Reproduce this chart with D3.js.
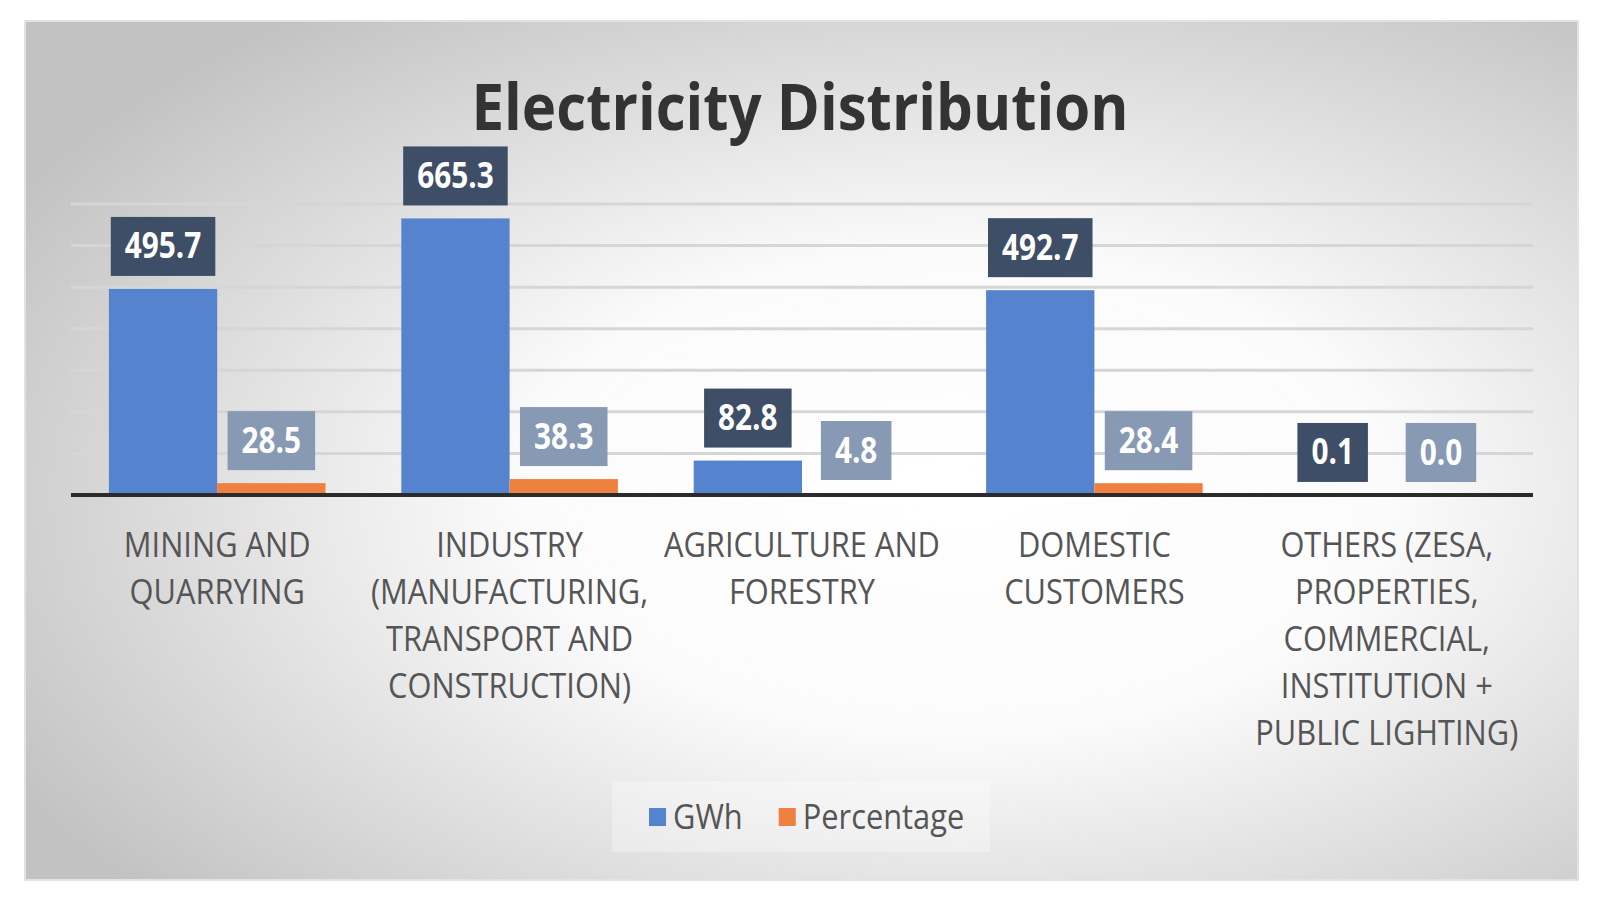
<!DOCTYPE html>
<html>
<head>
<meta charset="utf-8">
<script src="https://cdn.jsdelivr.net/npm/d3@7"></script>
<style>
  body { margin: 0; background: #fff; }
  text { font-family: "Open Sans", sans-serif; }
</style>
</head>
<body>
<script>
// Chart data
const categories = [
    ["MINING AND", "QUARRYING"],
    ["INDUSTRY", "(MANUFACTURING,", "TRANSPORT AND", "CONSTRUCTION)"],
    ["AGRICULTURE AND", "FORESTRY"],
    ["DOMESTIC", "CUSTOMERS"],
    ["OTHERS (ZESA,", "PROPERTIES,", "COMMERCIAL,", "INSTITUTION +", "PUBLIC LIGHTING)"]
];
const gwhValues = [495.7, 665.3, 82.8, 492.7, 0.1];
const pctValues = [28.5, 38.3, 4.8, 28.4, 0.0];
const seriesNames = ["GWh", "Percentage"];
const gridTicks = [100, 200, 300, 400, 500, 600, 700];

// Layout
const W = 1600, H = 900;
const panel = { x: 25, y: 21, w: 1553, h: 859 };
const plot = { left: 71, right: 1533, top: 204, bottom: 495 };
const squeeze = 0.88; // labels are narrow, like Calibri

const colors = { GWh: "#5683cd", Percentage: "#ee8040" };
const labelFill = { GWh: "#3f4e67", Percentage: "#8799b3" };

const svg = d3.select("body").append("svg")
    .attr("width", W)
    .attr("height", H);

// Background gradient of the chart area
const defs = svg.append("defs");
const grad = defs.append("radialGradient")
    .attr("id", "bg")
    .attr("cx", "60%").attr("cy", "55%")
    .attr("r", "70%");
grad.append("stop").attr("offset", "0%").attr("stop-color", "#ffffff");
grad.append("stop").attr("offset", "40%").attr("stop-color", "#fbfbfb");
grad.append("stop").attr("offset", "100%").attr("stop-color", "#c2c2c2");

svg.append("rect")
    .attr("x", panel.x).attr("y", panel.y)
    .attr("width", panel.w).attr("height", panel.h)
    .attr("fill", "url(#bg)")
    .attr("stroke", "#e2e2e2")
    .attr("stroke-width", 2);

// helper: make text narrower horizontally
function narrow(sel, k) {
    sel.each(function() {
        const len = this.getComputedTextLength();
        d3.select(this).attr("textLength", len * k).attr("lengthAdjust", "spacingAndGlyphs");
    });
}

// Title
svg.append("text")
    .attr("x", 800)
    .attr("y", 130)
    .attr("text-anchor", "middle")
    .attr("font-size", 64)
    .attr("font-weight", 700)
    .attr("fill", "#333333")
    .attr("textLength", 657)
    .attr("lengthAdjust", "spacingAndGlyphs")
    .text("Electricity Distribution");

// Scales
const x0 = d3.scaleBand()
    .domain(d3.range(categories.length))
    .range([plot.left, plot.right])
    .paddingInner(0)
    .paddingOuter(0);

const x1 = d3.scaleBand()
    .domain(seriesNames)
    .range([0, x0.bandwidth()])
    .paddingOuter(0.35)
    .paddingInner(0);

const y = d3.scaleLinear()
    .domain([0, 700])
    .range([plot.bottom, plot.top]);

// Gridlines
svg.append("g")
    .selectAll("line")
    .data(gridTicks)
    .enter().append("line")
    .attr("x1", plot.left).attr("x2", plot.right)
    .attr("y1", d => y(d)).attr("y2", d => y(d))
    .attr("stroke", "#d6d6d6")
    .attr("stroke-width", 3);

// Bars
const rows = categories.map((c, i) => ({ i, GWh: gwhValues[i], Percentage: pctValues[i] }));

const groups = svg.append("g")
    .selectAll("g")
    .data(rows)
    .enter().append("g")
    .attr("transform", d => "translate(" + x0(d.i) + ",0)");

groups.selectAll("rect")
    .data(d => seriesNames.map(s => ({ s, v: d[s] })))
    .enter().append("rect")
    .attr("x", d => x1(d.s))
    .attr("y", d => y(d.v))
    .attr("width", x1.bandwidth())
    .attr("height", d => y(0) - y(d.v))
    .attr("fill", d => colors[d.s]);

// Baseline axis
svg.append("line")
    .attr("x1", plot.left).attr("x2", plot.right)
    .attr("y1", y(0)).attr("y2", y(0))
    .attr("stroke", "#2b2b2b")
    .attr("stroke-width", 4);

// Data labels in boxes
const labels = groups.selectAll("g.lbl")
    .data(d => seriesNames.map(s => ({ s, v: d[s] })))
    .enter().append("g")
    .attr("class", "lbl");

labels.each(function(d) {
    const g = d3.select(this);
    const cx = x1(d.s) + x1.bandwidth() / 2;
    const bottom = y(d.v) - 13;
    const boxH = 59;
    const rect = g.append("rect")
        .attr("fill", labelFill[d.s]);
    const t = g.append("text")
        .attr("x", cx)
        .attr("y", bottom - boxH / 2 + 12)
        .attr("text-anchor", "middle")
        .attr("font-size", 35)
        .attr("font-weight", 700)
        .attr("fill", "#ffffff")
        .text(d.v.toFixed(1));
    narrow(t, 0.85);
    const tw = +t.attr("textLength");
    const bw = tw + 28;
    rect.attr("x", cx - bw / 2)
        .attr("y", bottom - boxH)
        .attr("width", bw)
        .attr("height", boxH);
});

// Category labels
const catG = svg.append("g");
categories.forEach((lines, i) => {
    const cx = x0(i) + x0.bandwidth() / 2;
    lines.forEach((line, j) => {
        const t = catG.append("text")
            .attr("x", cx)
            .attr("y", 557 + j * 47)
            .attr("text-anchor", "middle")
            .attr("font-size", 35)
            .attr("fill", "#555555")
            .text(line);
        narrow(t, squeeze);
    });
});

// Legend
const legend = svg.append("g");
legend.append("rect")
    .attr("x", 612).attr("y", 781)
    .attr("width", 378).attr("height", 71)
    .attr("fill", "#ffffff")
    .attr("opacity", 0.3);

let lx = 649;
seriesNames.forEach(s => {
    legend.append("rect")
        .attr("x", lx).attr("y", 808)
        .attr("width", 17).attr("height", 18)
        .attr("fill", colors[s]);
    const t = legend.append("text")
        .attr("x", lx + 24)
        .attr("y", 829)
        .attr("font-size", 35)
        .attr("fill", "#555555")
        .text(s);
    narrow(t, squeeze);
    lx += 24 + (+t.attr("textLength")) + 36;
});
</script>
</body>
</html>
